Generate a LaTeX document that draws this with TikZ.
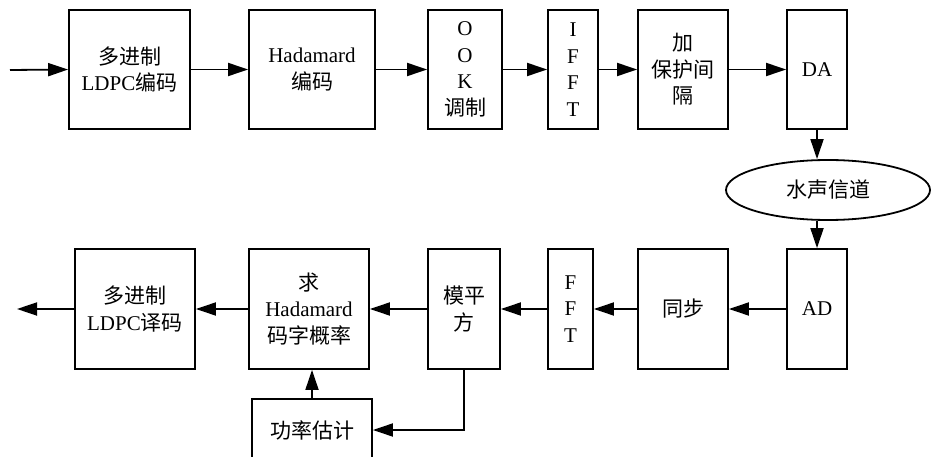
\documentclass[tikz,border=0pt]{standalone}
\usepackage{fontspec}
\setmainfont{Liberation Serif}
\newfontfamily\cjk{Noto Sans CJK SC}
\usetikzlibrary{arrows.meta,shapes.geometric}
\begin{document}
\begin{tikzpicture}[x=1pt,y=-1pt,
  blk/.style={draw,line width=1.8pt,inner sep=0pt,align=center,font=\fontsize{21}{26.5}\selectfont},
  arr/.style={line width=1.8pt,-{Triangle[length=20pt,width=13pt]}}]
\useasboundingbox (0,0) rectangle (931,457);
\clip (0,0) rectangle (931,457);
% top row
\node[blk,minimum width=121pt,minimum height=119pt] (a1) at (129.5,69.5) {{\cjk 多进制}\\LDPC{\cjk 编码}};
\node[blk,minimum width=126pt,minimum height=119pt] (a2) at (312,69.5) {Hadamard\\{\cjk 编码}};
\node[blk,minimum width=74pt,minimum height=119pt] (a3) at (465,69.5) {O\\O\\K\\{\cjk 调制}};
\node[blk,minimum width=50pt,minimum height=119pt] (a4) at (573,69.5) {I\\F\\F\\T};
\node[blk,minimum width=90pt,minimum height=119pt] (a5) at (683,69.5) {{\cjk 加}\\{\cjk 保护间}\\{\cjk 隔}};
\node[blk,minimum width=60pt,minimum height=119pt] (a6) at (817,69.5) {DA};
\node[blk,ellipse,minimum width=204pt,minimum height=60pt] (ch) at (828,190) {\cjk 水声信道};
% bottom row
\node[blk,minimum width=60pt,minimum height=120pt] (b1) at (817,309) {AD};
\node[blk,minimum width=90pt,minimum height=120pt] (b2) at (683,309) {\cjk 同步};
\node[blk,minimum width=45pt,minimum height=120pt] (b3) at (570.5,309) {F\\F\\T};
\node[blk,minimum width=72pt,minimum height=120pt] (b4) at (464,309) {{\cjk 模平}\\{\cjk 方}};
\node[blk,minimum width=120pt,minimum height=120pt] (b5) at (309,309) {{\cjk 求}\\Hadamard\\{\cjk 码字概率}};
\node[blk,minimum width=120pt,minimum height=120pt] (b6) at (135,309) {{\cjk 多进制}\\LDPC{\cjk 译码}};
\node[blk,minimum width=120pt,minimum height=62pt] (b7) at (312,430) {\cjk 功率估计};
\coordinate (in) at (10,70);
\coordinate (out) at (17,309);
% connectors
\draw[arr] (in) -- (a1.west);
\draw[arr] (a1) -- (a2);
\draw[arr] (a2) -- (a3);
\draw[arr] (a3) -- (a4);
\draw[arr] (a4) -- (a5);
\draw[arr] (a5) -- (a6);
\draw[arr] (a6.south) -- (a6.south |- ch.north);
\draw[arr] (b1.north |- ch.south) -- (b1.north);
\draw[arr] (b1) -- (b2);
\draw[arr] (b2) -- (b3);
\draw[arr] (b3) -- (b4);
\draw[arr] (b4) -- (b5);
\draw[arr] (b5) -- (b6);
\draw[arr] (b6.west) -- (out);
\draw[arr] (b4.south) |- (b7.east);
\draw[arr] (b7.north) -- (b7.north |- b5.south);
\end{tikzpicture}
\end{document}
